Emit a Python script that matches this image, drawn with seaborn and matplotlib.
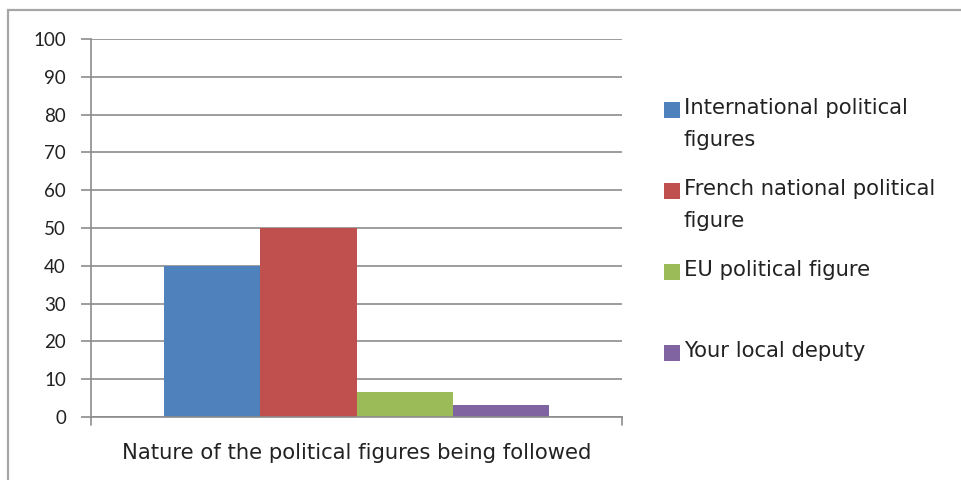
import matplotlib
matplotlib.use("Agg")
import matplotlib.pyplot as plt
import matplotlib.patches as mpatches
import seaborn as sns
import pandas as pd

# Chart data
category = "Nature of the political figures being followed"
series = [
    "International political figures",
    "French national political figure",
    "EU political figure",
    "Your local deputy",
]
legend_labels = [
    "International political\nfigures",
    "French national political\nfigure",
    "EU political figure",
    "Your local deputy",
]
values = [40, 50, 6.7, 3.3]
colors = ["#4F81BD", "#C0504D", "#9BBB59", "#8064A2"]
yticks = list(range(0, 101, 10))

sns.set_theme(style="white")
plt.rcParams["font.family"] = ["DejaVu Sans"]

df = pd.DataFrame({"category": [category] * len(series), "series": series, "value": values})

fig = plt.figure(figsize=(9.61, 4.80), dpi=100)
ax = fig.add_axes([91 / 961, 63 / 480, (622 - 91) / 961, (417 - 39) / 480])

sns.barplot(data=df, x="category", y="value", hue="series", hue_order=series,
            palette=colors, width=0.725, saturation=1, ax=ax, legend=False,
            edgecolor="none", linewidth=0)

ax.set_xlim(-0.5, 0.5)
ax.set_ylim(0, 100)
ax.set_yticks(yticks)
ax.set_yticklabels([str(t) for t in yticks], fontsize=13.5, color="#222222",
                   family=["Lato", "DejaVu Sans"])
ax.yaxis.grid(True, color="#8c8c8c", linewidth=1.2)
ax.set_axisbelow(True)
ax.set_xlabel("")
ax.set_ylabel("")
ax.set_xticks([])
ax.tick_params(axis="y", which="both", left=True, length=7, width=1.2,
               color="#8c8c8c", pad=11)
for side in ["top", "right"]:
    ax.spines[side].set_visible(False)
for side in ["left", "bottom"]:
    ax.spines[side].set_color("#8c8c8c")
    ax.spines[side].set_linewidth(1.2)

# x-axis boundary ticks and category label
ax.plot([-0.5, -0.5], [0, -2.2], color="#8c8c8c", lw=1.2, clip_on=False)
ax.plot([0.5, 0.5], [0, -2.2], color="#8c8c8c", lw=1.2, clip_on=False)
ax.text(0, -9.4, category, ha="center", va="center", fontsize=15.2, color="#222222")

# Legend entries on the right
for i, (lab, col) in enumerate(zip(legend_labels, colors)):
    y_center = 110 + 81 * i
    fig.patches.append(mpatches.Rectangle((664 / 961, (480 - y_center - 8) / 480),
                                          16 / 961, 16 / 480, transform=fig.transFigure,
                                          facecolor=col, edgecolor="none"))
    fig.text(684 / 961, (480 - y_center + 12) / 480, lab, ha="left", va="top",
             fontsize=15.2, color="#222222", linespacing=1.72)

# Outer chart border
fig.patches.append(mpatches.Rectangle((8 / 961, -0.05), 1.0, (470 / 480) + 0.05,
                                      transform=fig.transFigure, facecolor="none",
                                      edgecolor="#a6a6a6", linewidth=1.6))

fig.savefig("out.png", dpi=100)
